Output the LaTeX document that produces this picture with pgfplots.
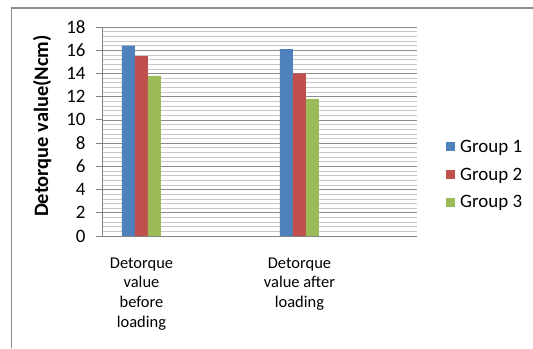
\documentclass[border=0pt]{standalone}
\usepackage{fontspec}
\setmainfont{Carlito}
\usepackage{pgfplots}
\pgfplotsset{compat=1.18}
\definecolor{gA}{HTML}{4F81BD}
\definecolor{gB}{HTML}{C0504D}
\definecolor{gC}{HTML}{9BBB59}
\begin{document}
\begin{tikzpicture}[x=1bp,y=1bp]
\useasboundingbox (0,0) rectangle (533,348);
\draw[black!45, line width=1.2bp] (11.5,0) -- (11.5,340) -- (533,340);
\begin{axis}[
  at={(102bp,112bp)}, anchor=south west,
  scale only axis, width=315bp, height=209bp,
  ybar=0pt, bar width=13bp,
  xmin=-0.25, xmax=1.744,
  ymin=0, ymax=18,
  ytick={0,2,...,18},
  minor y tick num=4,
  ymajorgrids, yminorgrids,
  major grid style={black!45, line width=0.6bp},
  minor grid style={black!22, line width=0.6bp},
  xtick={0,1},
  xticklabels={{Detorque\\value\\before\\loading},{Detorque\\value after\\loading}},
  x tick label style={align=center, font=\fontsize{16.5}{20}\selectfont, yshift=-12bp},
  y tick label style={font=\fontsize{19}{20}\selectfont, xshift=-7bp},
  /pgf/number format/assume math mode=true,
  axis x line*=bottom, axis y line*=left,
  axis line style={-, black!50, line width=0.8bp},
  tick align=outside,
  major tick length=6bp, minor tick length=0pt,
  x tick style={draw=none},
  y tick style={black!50, line width=0.8bp},
  ylabel={Detorque value(Ncm)},
  every axis y label/.style={at={(axis description cs:-0.19,0.526)}, rotate=90, anchor=center,
    font=\bfseries\fontsize{20.5}{22}\selectfont},
  legend style={at={(axis description cs:1.092,0.47)}, anchor=north west, draw=none, fill=none,
    font=\fontsize{19}{20}\selectfont, row sep=10bp, inner sep=0pt, cells={anchor=west}},
  legend image code/.code={\fill[#1] (0bp,-4.5bp) rectangle (8.5bp,4.5bp); \path (0,0) -- (12bp,0);},
]
\addplot[fill=gA, draw=none] coordinates {(0,16.4) (1,16.1)};
\addplot[fill=gB, draw=none] coordinates {(0,15.5) (1,14.0)};
\addplot[fill=gC, draw=none] coordinates {(0,13.8) (1,11.8)};
\legend{Group 1, Group 2, Group 3}
\end{axis}
\end{tikzpicture}
\end{document}
